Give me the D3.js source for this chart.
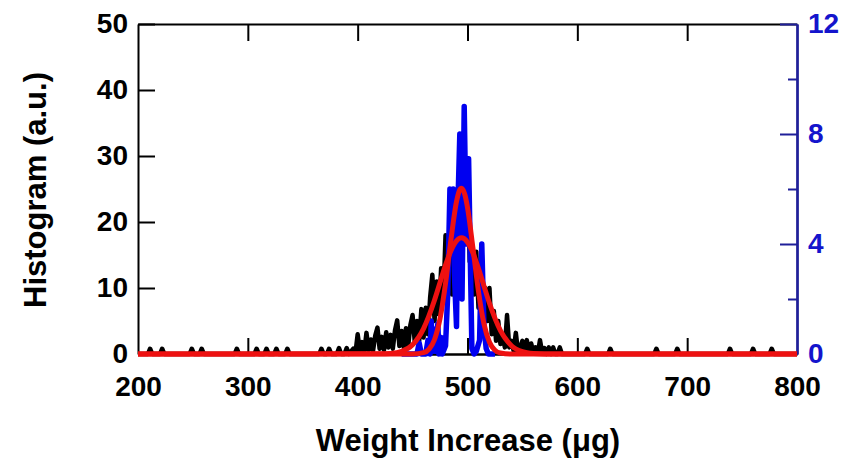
<!DOCTYPE html>
<html>
<head>
<meta charset="utf-8">
<script src="https://cdn.jsdelivr.net/npm/d3@7"></script>
<style>
  body { margin: 0; background: #fff; }
  svg { display: block; font-family: "Liberation Sans", Arial, sans-serif; font-weight: bold; }
</style>
</head>
<body>
<svg width="843" height="467"></svg>
<script>
// tick values
var xTicks = [200, 300, 400, 500, 600, 700, 800];
var xInnerTicks = [300, 400, 500, 600, 700];
var leftTicks = [0, 10, 20, 30, 40, 50];
var rightTicks = [0, 4, 8, 12];
var rightMinor = [2, 6, 10];

// black histogram (left axis)
var histX = [200, 209, 211, 213, 220, 222, 224, 247, 249, 251, 256, 258, 260,
    288, 290, 292, 306, 308, 310, 315, 317, 319, 324, 326, 328, 334, 336, 338,
    365, 367, 369, 372, 374, 376, 381, 383, 385, 388, 390, 392, 394,
    396, 398, 400, 402, 404, 406, 408, 410, 412, 414, 416, 418, 420, 422, 424,
    426, 428, 430, 432, 434, 436, 438, 440, 442, 444, 446, 448, 450, 452, 454,
    456, 458, 460, 462, 464, 466, 468, 470, 472, 474, 476, 478, 480, 482, 484,
    486, 488, 490, 492, 494, 496, 498, 500, 502, 504, 506, 508, 510, 512, 514,
    516, 518, 520, 522, 524, 526, 528, 530, 532, 534, 536, 538, 540, 542, 544,
    546, 548, 550, 552, 554, 556, 558, 560, 562, 564, 566, 568, 570, 572, 574,
    576, 578, 580, 582, 584, 586, 607, 609, 611, 628, 630, 632, 670, 672, 674,
    689, 691, 693, 737, 739, 741, 758, 760, 762, 775, 777, 779, 800];
var histY = [0, 0, 0.8, 0, 0, 0.8, 0, 0, 0.8, 0, 0, 0.8, 0,
    0, 0.8, 0, 0, 0.8, 0, 0, 0.8, 0, 0, 0.8, 0, 0, 0.8, 0,
    0, 0.8, 0, 0, 0.8, 0, 0, 0.9, 0, 0, 0.9, 0, 0.4,
    0.8, 0.2, 3.0, 0.5, 1.8, 0.3, 3.2, 0.6, 2.2, 0.5, 2.8, 4.0, 0.8, 2.6, 0.6,
    3.3, 1.0, 2.9, 0.8, 3.6, 5.1, 1.2, 3.5, 1.0, 3.9, 1.2, 4.4, 5.9, 1.8, 5.0,
    2.0, 6.8, 2.5, 7.0, 3.0, 8.6, 12.0, 5.0, 11.0, 6.0, 13.0, 8.0, 18.0, 10.0, 17.0,
    9.0, 21.0, 12.0, 22.0, 26.0, 30.0, 20.0, 29.0, 14.0, 15.0, 9.0, 15.5, 7.0, 12.0, 6.0,
    10.0, 5.0, 10.0, 3.0, 6.5, 2.0, 5.0, 1.5, 3.0, 1.0, 5.9, 1.0, 2.0, 0.5, 3.2,
    0.3, 1.0, 2.0, 0.3, 2.1, 0.2, 1.6, 0.2, 1.0, 0.1, 2.1, 0.2, 0.9, 0, 1.0,
    0, 1.0, 0, 0, 1.0, 0, 0, 0.8, 0, 0, 0.8, 0, 0, 0.8, 0,
    0, 0.8, 0, 0, 0.8, 0, 0, 0.8, 0, 0, 0.8, 0, 0];

// blue series (right axis)
var blueX = [440, 454, 456, 458, 462, 464, 466, 467, 468, 470, 471, 473, 474, 476, 477,
    480, 482, 484, 486, 487, 488, 490, 491, 493, 495, 497, 499, 501, 503, 504,
    506, 508, 511, 513, 515, 517, 519, 525];
var blueY = [0, 0, 0.4, 0, 0, 0.5, 0, 1.2, 0.1, 0.9, 0.1, 1.1, 0, 0.6, 0,
    0.3, 2.2, 6.0, 4.8, 6.0, 3.0, 1.0, 5.0, 8.0, 2.0, 9.0, 4.0, 7.1, 2.5, 0.2,
    0, 0.1, 0.5, 4.0, 1.0, 0.2, 0, 0];

// red fits (left axis)
var wideX = [200, 420, 430, 440, 450, 460, 470, 475, 480, 485, 490, 494.5, 500,
    505, 510, 515, 520, 530, 540, 550, 560, 570, 800];
var wideY = [0, 0.02, 0.09, 0.40, 1.41, 3.86, 8.18, 10.84, 13.46, 15.69, 17.15, 17.6, 16.94,
    15.29, 12.95, 10.30, 7.68, 3.53, 1.26, 0.35, 0.07, 0, 0];
var narrowX = [200, 450, 460, 465, 470, 475, 480, 485, 490, 492.5, 494.5, 497.5, 500,
    505, 510, 515, 520, 525, 530, 540, 800];
var narrowY = [0, 0.01, 0.2, 0.74, 2.2, 5.37, 10.7, 17.4, 23.1, 24.7, 25.1, 24.2, 22.2,
    16.0, 9.47, 4.56, 1.79, 0.58, 0.15, 0, 0];

var svg = d3.select("svg");

var x = d3.scaleLinear().domain([200, 800]).range([138, 797]),
    yL = d3.scaleLinear().domain([0, 50]).range([354, 24]),
    yR = d3.scaleLinear().domain([0, 12]).range([354, 24]);

var blue = "#1414cc", navy = "#1f1f99", red = "#ee1111";

function styleAxis(g, color) {
    g.attr("font-family", null).attr("font-size", 28).attr("font-weight", "bold");
    g.select(".domain").attr("stroke", color).attr("stroke-width", 2);
    g.selectAll(".tick line").attr("stroke", color).attr("stroke-width", 2);
    g.selectAll(".tick text").attr("fill", color);
}

// bottom axis
svg.append("g")
    .attr("transform", "translate(0,354)")
    .call(d3.axisBottom(x).tickValues(xTicks).tickSize(0).tickPadding(22).tickSizeOuter(0))
    .call(styleAxis, "#000");
svg.append("g")
    .attr("transform", "translate(0,354)")
    .call(d3.axisBottom(x).tickValues(xInnerTicks).tickSize(-16).tickFormat("").tickSizeOuter(0))
    .call(styleAxis, "#000");

// top axis
svg.append("g")
    .attr("transform", "translate(0,24)")
    .call(d3.axisTop(x).tickValues(xInnerTicks).tickSize(-17).tickFormat("").tickSizeOuter(0))
    .call(styleAxis, "#000");

// left axis
svg.append("g")
    .attr("transform", "translate(138,0)")
    .call(d3.axisLeft(yL).tickValues(leftTicks).tickSize(-17).tickPadding(10).tickSizeOuter(0))
    .call(styleAxis, "#000");

// right axis
svg.append("g")
    .attr("transform", "translate(797,0)")
    .call(d3.axisRight(yR).tickValues(rightMinor).tickSize(-9).tickFormat("").tickSizeOuter(0))
    .call(styleAxis, navy);
var rAxis = svg.append("g")
    .attr("transform", "translate(797,0)")
    .call(d3.axisRight(yR).tickValues(rightTicks).tickSize(-17).tickPadding(11).tickSizeOuter(0))
    .call(styleAxis, navy);
rAxis.select(".domain").attr("stroke-width", 2.5);
rAxis.selectAll(".tick text").attr("fill", blue);

// data
var histLine = d3.line()
    .x(function (d, i) { return x(histX[i]); })
    .y(function (d) { return yL(d); });
svg.append("path")
    .datum(histY)
    .attr("d", histLine)
    .attr("fill", "none")
    .attr("stroke", "#000")
    .attr("stroke-width", 4.5)
    .attr("stroke-linejoin", "round");

var blueLine = d3.line()
    .x(function (d, i) { return x(blueX[i]); })
    .y(function (d) { return yR(d); });
svg.append("path")
    .datum(blueY)
    .attr("d", blueLine)
    .attr("fill", "none")
    .attr("stroke", "#0000f0")
    .attr("stroke-width", 5.5)
    .attr("stroke-linejoin", "round");

function fitLine(xs) {
    return d3.line()
        .curve(d3.curveMonotoneX)
        .x(function (d, i) { return x(xs[i]); })
        .y(function (d) { return yL(d); });
}
svg.append("path")
    .datum(wideY)
    .attr("d", fitLine(wideX))
    .attr("fill", "none")
    .attr("stroke", red)
    .attr("stroke-width", 5);
svg.append("path")
    .datum(narrowY)
    .attr("d", fitLine(narrowX))
    .attr("fill", "none")
    .attr("stroke", red)
    .attr("stroke-width", 5);

// titles
svg.append("text")
    .attr("x", 468)
    .attr("y", 451)
    .attr("text-anchor", "middle")
    .attr("font-size", 31)
    .text("Weight Increase (μg)");

svg.append("text")
    .attr("transform", "translate(46,190) rotate(-90)")
    .attr("text-anchor", "middle")
    .attr("font-size", 31)
    .text("Histogram (a.u.)");
</script>
</body>
</html>
